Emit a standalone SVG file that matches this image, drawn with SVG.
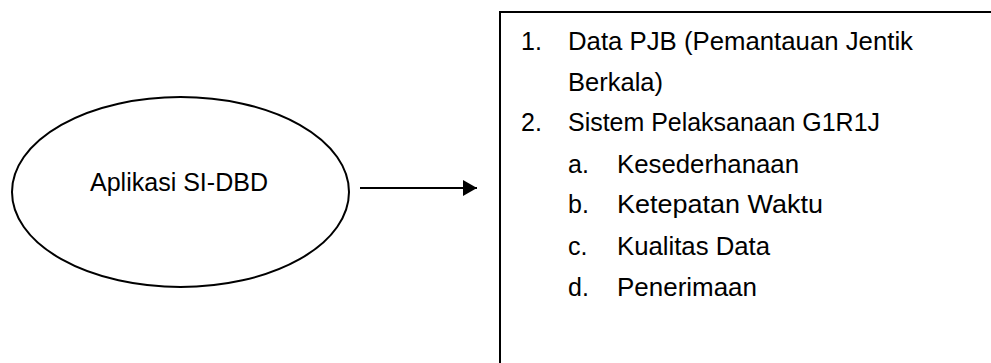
<svg xmlns="http://www.w3.org/2000/svg" width="991" height="363" viewBox="0 0 991 363">
  <style>
    .shape { fill: #ffffff; stroke: #000000; stroke-width: 2; }
    .txt { font-family: "Liberation Sans", Arial, sans-serif; font-size: 25px; fill: #000000; }
    .link { stroke: #000000; stroke-width: 2; fill: none; }
  </style>
  <defs>
    <marker id="arrowhead" viewBox="0 0 14 16" refX="14" refY="8" markerWidth="14" markerHeight="16" markerUnits="userSpaceOnUse" orient="auto">
      <path d="M0,0 L14,8 L0,16 Z" fill="#000000"/>
    </marker>
  </defs>

  <rect width="991" height="363" fill="#ffffff"/>

  <g id="app">
    <ellipse class="shape" cx="180.5" cy="192" rx="168.5" ry="95"/>
    <text class="txt" x="179" y="191" text-anchor="middle" textLength="178" lengthAdjust="spacingAndGlyphs">Aplikasi SI-DBD</text>
  </g>

  <g id="connectors">
    <line class="link" x1="360" y1="188" x2="477" y2="188" marker-end="url(#arrowhead)"/>
  </g>

  <g id="outputs">
    <rect class="shape" x="500" y="12" width="520" height="380"/>
    <text class="txt" x="521" y="50">1.</text>
    <text class="txt" x="568" y="50" textLength="345" lengthAdjust="spacingAndGlyphs">Data PJB (Pemantauan Jentik</text>
    <text class="txt" x="568" y="91" textLength="95" lengthAdjust="spacingAndGlyphs">Berkala)</text>
    <text class="txt" x="521" y="131">2.</text>
    <text class="txt" x="568" y="131" textLength="312" lengthAdjust="spacingAndGlyphs">Sistem Pelaksanaan G1R1J</text>
    <text class="txt" x="568" y="173">a.</text>
    <text class="txt" x="617" y="173" textLength="182" lengthAdjust="spacingAndGlyphs">Kesederhanaan</text>
    <text class="txt" x="568" y="213">b.</text>
    <text class="txt" x="617" y="213" textLength="206" lengthAdjust="spacingAndGlyphs">Ketepatan Waktu</text>
    <text class="txt" x="568" y="255">c.</text>
    <text class="txt" x="617" y="255" textLength="153" lengthAdjust="spacingAndGlyphs">Kualitas Data</text>
    <text class="txt" x="568" y="296">d.</text>
    <text class="txt" x="617" y="296" textLength="140" lengthAdjust="spacingAndGlyphs">Penerimaan</text>
  </g>
</svg>
